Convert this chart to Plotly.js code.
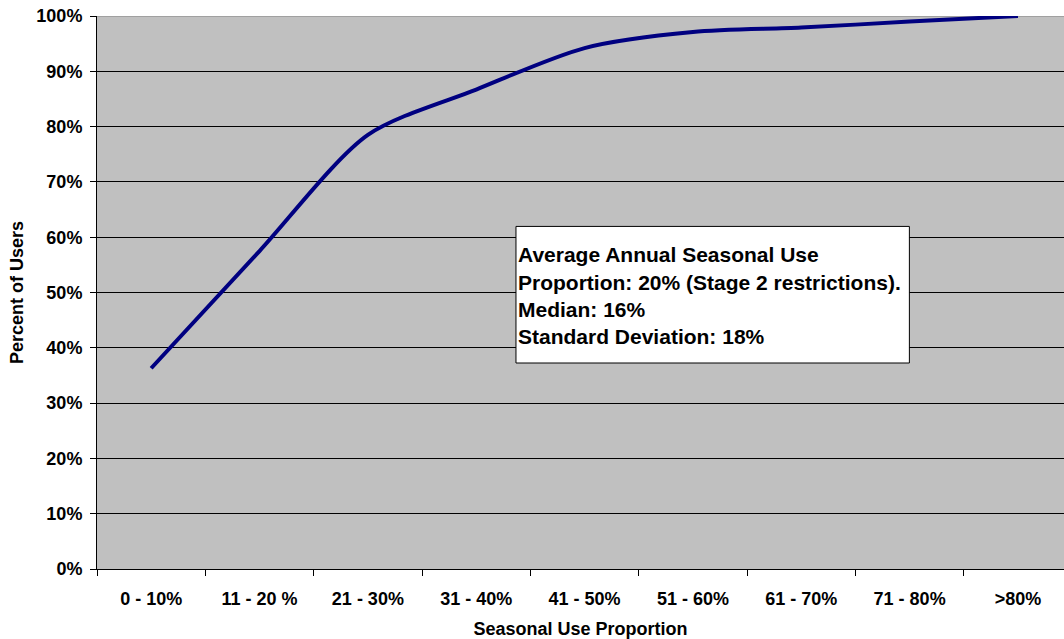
<!DOCTYPE html>
<html>
<head>
<meta charset="utf-8">
<script src="https://cdn.plot.ly/plotly-3.0.1.min.js"></script>
<style>html,body{margin:0;padding:0;background:#fff;}#chart{width:1064px;height:639px;}</style>
</head>
<body>
<div id="chart"></div>
<script>
var categories = ["0 - 10%", "11 - 20 %", "21 - 30%", "31 - 40%", "41 - 50%", "51 - 60%", "61 - 70%", "71 - 80%", ">80%"];
var percentUsers = [36.3, 57.5, 78.5, 86.7, 94.2, 97.1, 97.9, 99.0, 100];
var yTicks = [0, 10, 20, 30, 40, 50, 60, 70, 80, 90, 100];
var noteLines = ["Average Annual Seasonal Use", "Proportion: 20% (Stage 2 restrictions).", "Median: 16%", "Standard Deviation: 18%"];

var FONT = "Arial, 'Liberation Sans', sans-serif";

var trace = {
  type: "scatter",
  mode: "lines",
  x: categories.map(function(c, i){ return i; }),
  y: percentUsers,
  line: {color: "#000080", width: 4, shape: "spline", smoothing: 0.8},
  hoverinfo: "skip"
};

var lineYs = [56.8, 51.8, 47.0, 42.0];
var annotations = noteLines.map(function(t, i){
  return {
    xref: "x", yref: "y", x: 3.38, y: lineYs[i],
    xanchor: "left", yanchor: "middle",
    text: "<b>" + t + "</b>", showarrow: false, borderpad: 0,
    font: {family: FONT, size: 21, color: "#000", weight: "bold"}
  };
});

var layout = {
  width: 1064, height: 639,
  margin: {l: 96.5, r: 0, t: 16, b: 70},
  paper_bgcolor: "#ffffff",
  plot_bgcolor: "#c0c0c0",
  showlegend: false,
  font: {family: FONT, color: "#000"},
  xaxis: {
    type: "linear",
    range: [-0.5, 8.425],
    tickmode: "array",
    tickvals: categories.map(function(c, i){ return i; }),
    ticktext: categories,
    showgrid: false, zeroline: false,
    showline: true, linecolor: "#000", linewidth: 1,
    ticks: "",
    tickfont: {family: FONT, size: 18, color: "#000", weight: "bold"},
    ticklabelstandoff: 13,
    title: {text: "Seasonal Use Proportion", font: {family: FONT, size: 18, color: "#000", weight: "bold"}, standoff: 14},
    fixedrange: true
  },
  xaxis2: {
    overlaying: "x", matches: "x", type: "linear",
    range: [-0.5, 8.425],
    tickmode: "array",
    tickvals: [-0.5, 0.5, 1.5, 2.5, 3.5, 4.5, 5.5, 6.5, 7.5],
    showticklabels: false, showgrid: false, zeroline: false,
    ticks: "outside", ticklen: 6, tickcolor: "#000", tickwidth: 1,
    anchor: "y", side: "bottom"
  },
  yaxis: {
    range: [0, 100],
    tickmode: "array",
    tickvals: yTicks,
    ticktext: yTicks.map(function(v){ return v + "%"; }),
    showgrid: true, gridcolor: "#000", gridwidth: 1,
    zeroline: false,
    showline: true, linecolor: "#000", linewidth: 1,
    ticks: "outside", ticklen: 6, tickcolor: "#000",
    tickfont: {family: FONT, size: 18, color: "#000", weight: "bold"},
    ticklabelstandoff: 4,
    title: {text: "Percent of Users", font: {family: FONT, size: 18, color: "#000", weight: "bold"}, standoff: 8},
    fixedrange: true
  },
  shapes: [
    {type: "line", xref: "paper", yref: "y", x0: 0, x1: 1, y0: 100, y1: 100, line: {color: "#808080", width: 1}, layer: "between"},
    {type: "rect", xref: "x", yref: "y", x0: 3.367, x1: 6.998, y0: 37.25, y1: 61.95, fillcolor: "#ffffff", line: {color: "#000", width: 1}, layer: "above"}
  ],
  annotations: annotations
};

var trace2 = {type: "scatter", x: [0], y: [null], xaxis: "x2", yaxis: "y", hoverinfo: "skip", showlegend: false};

Plotly.newPlot("chart", [trace, trace2], layout, {staticPlot: true, displayModeBar: false});
</script>
</body>
</html>
